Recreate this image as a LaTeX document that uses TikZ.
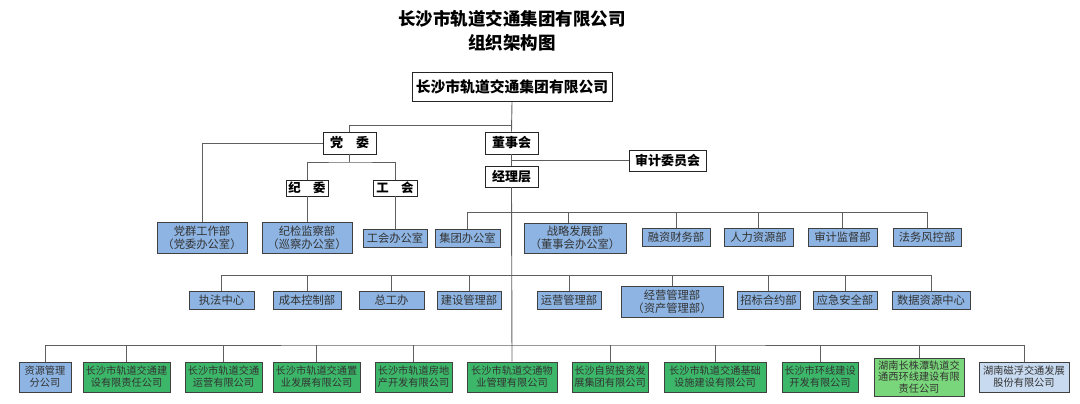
\documentclass[tikz,border=0pt]{standalone}
\usepackage{fontspec}
\newfontfamily\cjk{Noto Sans CJK SC}
\definecolor{deptblue}{RGB}{141,180,226}
\definecolor{subgreen}{RGB}{60,182,104}
\definecolor{lightgreen}{RGB}{122,214,122}
\definecolor{paleblue}{RGB}{200,218,240}
\definecolor{linegray}{RGB}{95,95,95}
\tikzset{
  sz/.style 2 args={minimum width=#1, minimum height=#2},
  ttl/.style={inner sep=0pt, font=\cjk\bfseries\fontsize{17.5}{20}\selectfont},
  lead/.style={draw=black!85, line width=0.9pt, fill=white, inner sep=0pt, align=center,
    font=\cjk\bfseries\fontsize{13}{15}\selectfont},
  toplead/.style={lead, font=\cjk\bfseries\fontsize{14.8}{17}\selectfont},
  smlead/.style={lead, font=\cjk\bfseries\fontsize{12.4}{14}\selectfont},
  dept/.style={draw=black!75, line width=1pt, fill=deptblue, inner sep=0pt, align=center,
    text=black!80, font=\cjk\fontsize{11.3}{13}\selectfont},
  sub/.style={dept, fill=subgreen, font=\cjk\fontsize{10.2}{12}\selectfont},
  conn/.style={draw=linegray, line width=0.9pt},
}
\begin{document}
\begin{tikzpicture}[x=1pt,y=-1pt]
\useasboundingbox (0,0) rectangle (1080,404);
% titles
\node[ttl] (t1) at (512,19) {长沙市轨道交通集团有限公司};
\node[ttl] (t2) at (512,43) {组织架构图};
% leadership
\node[toplead, sz={200pt}{29pt}] (top) at (512,87) {长沙市轨道交通集团有限公司};
\node[lead, sz={53pt}{22pt}] (dw) at (349.5,143) {党　委};
\node[lead, sz={53pt}{22pt}] (dsh) at (511.5,143) {董事会};
\node[lead, sz={77pt}{21pt}] (sjw) at (667.5,160.5) {审计委员会};
\node[lead, sz={53pt}{21pt}] (jlc) at (511.5,176.5) {经理层};
\node[smlead, sz={42pt}{16pt}] (jw) at (307,188) {纪　委};
\node[smlead, sz={44pt}{16pt}] (gh) at (395,188) {工　会};
% row 1
\node[dept, sz={90pt}{31pt}] (dq) at (202,237.5) {党群工作部\\（党委办公室）};
\node[dept, sz={90pt}{31pt}] (jj) at (307,237.5) {纪检监察部\\（巡察办公室）};
\node[dept, sz={64pt}{18pt}] (ghb) at (395,238) {工会办公室};
\node[dept, sz={65pt}{18pt}] (jt) at (467.5,238) {集团办公室};
\node[dept, sz={102pt}{30pt}] (zl) at (575,238) {战略发展部\\（董事会办公室）};
\node[dept, sz={68pt}{18pt}] (rz) at (676,237.5) {融资财务部};
\node[dept, sz={69pt}{18pt}] (rl) at (758.5,237.5) {人力资源部};
\node[dept, sz={69pt}{18pt}] (sj) at (842.5,237.5) {审计监督部};
\node[dept, sz={68pt}{18pt}] (ff) at (927,237.5) {法务风控部};
% row 2
\node[dept, sz={65pt}{18pt}] (zf) at (221.5,300) {执法中心};
\node[dept, sz={68pt}{18pt}] (cb) at (307,300) {成本控制部};
\node[dept, sz={65pt}{18pt}] (zg) at (391.5,300) {总工办};
\node[dept, sz={64pt}{18pt}] (js) at (469,300) {建设管理部};
\node[dept, sz={64pt}{18pt}] (yy) at (569,300) {运营管理部};
\node[dept, sz={102pt}{31pt}] (jy) at (672,301.5) {经营管理部\\（资产管理部）};
\node[dept, sz={63pt}{18pt}] (zb) at (768.5,300) {招标合约部};
\node[dept, sz={64pt}{18pt}] (yj) at (845,300) {应急安全部};
\node[dept, sz={78pt}{18pt}] (sz) at (931,300) {数据资源中心};
% row 3
\node[dept, sz={52pt}{30pt}, font=\cjk\fontsize{10.2}{12}\selectfont] (zy) at (45,377) {资源管理\\分公司};
\node[sub, sz={87pt}{30pt}] (c1) at (126.5,377) {长沙市轨道交通建\\设有限责任公司};
\node[sub, sz={77pt}{30pt}] (c2) at (223.5,377) {长沙市轨道交通\\运营有限公司};
\node[sub, sz={87pt}{30pt}] (c3) at (316.5,377) {长沙市轨道交通置\\业发展有限公司};
\node[sub, sz={77pt}{30pt}] (c4) at (413.5,377) {长沙市轨道房地\\产开发有限公司};
\node[sub, sz={90pt}{30pt}] (c5) at (512,377) {长沙市轨道交通物\\业管理有限公司};
\node[sub, sz={76pt}{30pt}] (c6) at (610,377) {长沙自贸投资发\\展集团有限公司};
\node[sub, sz={102pt}{30pt}] (c7) at (715,377) {长沙市轨道交通基础\\设施建设有限公司};
\node[sub, sz={76pt}{30pt}] (c8) at (820,377) {长沙市环线建设\\开发有限公司};
\node[sub, sz={90pt}{38pt}, fill=lightgreen, font=\cjk\fontsize{10.2}{11.5}\selectfont] (c9) at (919,377) {湖南长株潭轨道交\\通西环线建设有限\\责任公司};
\node[sub, sz={90pt}{30pt}, fill=paleblue] (c10) at (1024,377) {湖南磁浮交通发展\\股份有限公司};
% bus coordinates
\coordinate (b0) at (512,125);
\coordinate (b1) at (349.5,162);
\coordinate (r1) at (512,212.5);
\coordinate (r2) at (512,275.7);
\coordinate (r3) at (512,345);
\coordinate (sjj) at (512,160.5);
% connectors
\draw[conn] (top.south) -- (dsh.north);
\draw[conn] (b0) -| (dw.north);
\draw[conn] (dsh.south) -- (jlc.north);
\draw[conn] (sjj) -- (sjw.west);
\draw[conn] (dw.west) -| (dq.north);
\draw[conn] (dw.south) -- (b1);
\draw[conn] (jw.north) |- (b1) -| (gh.north);
\draw[conn] (jw.south) -- (jj.north);
\draw[conn] (gh.south) -- (ghb.north);
\draw[conn] (jlc.south) -- (c5.north);
% row 1 bus
\draw[conn] (jt.north) |- (r1) -| (ff.north);
\draw[conn] ([xshift=-7pt]zl.north) -- ([xshift=-7pt]zl.north |- r1);
\foreach \n in {rz,rl,sj} \draw[conn] (\n.north) -- (\n.north |- r1);
% row 2 bus
\draw[conn] (zf.north) |- (r2) -| (sz.north);
\foreach \n in {cb,zg,js,yy,jy,zb,yj} \draw[conn] (\n.north) -- (\n.north |- r2);
% row 3 bus
\draw[conn] (zy.north) |- (r3) -| (c10.north);
\foreach \n in {c1,c2,c3,c4,c6,c7,c8,c9} \draw[conn] (\n.north) -- (\n.north |- r3);
\end{tikzpicture}
\end{document}
